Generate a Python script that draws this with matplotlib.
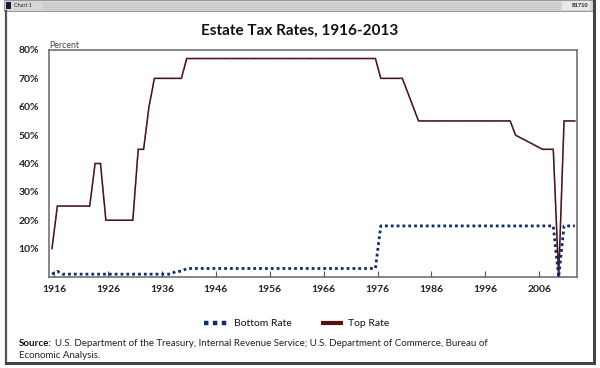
import matplotlib
matplotlib.use("Agg")
import matplotlib.pyplot as plt
from matplotlib.patches import Rectangle
from matplotlib.lines import Line2D

plt.rcParams['font.family'] = ['Lato', 'DejaVu Sans']

# ---- data ----
years = list(range(1916, 2014))
top_rate = ([10, 25, 25, 25, 25, 25, 25, 25, 40, 40,          # 1916-1925
             20, 20, 20, 20, 20, 20, 45, 45, 60, 70,          # 1926-1935
             70, 70, 70, 70, 70] + [77] * 36 +                 # 1936-1940, 1941-1976
            [70, 70, 70, 70, 70, 65, 60] + [55] * 18 +         # 1977-1983, 1984-2001
            [50, 49, 48, 47, 46, 45, 45, 45, 0, 55, 55, 55])   # 2002-2013
bottom_rate = ([1, 2] + [1] * 21 +                             # 1916-1938
               [2, 2] + [3] * 36 +                             # 1939-1940, 1941-1976
               [18] * 32 +                                     # 1977-2008
               [18, 0, 18, 18, 18])                            # 2009-2013
tick_years = list(range(1916, 2013, 10))
y_ticks = [10, 20, 30, 40, 50, 60, 70, 80]
title = "Estate Tax Rates, 1916-2013"
source_bold = "Source:"
source_line1 = "U.S. Department of the Treasury, Internal Revenue Service; U.S. Department of Commerce, Bureau of"
source_line2 = "Economic Analysis."

W, H = 600, 368
fig = plt.figure(figsize=(W / 100, H / 100), dpi=100)
fig.patch.set_facecolor('white')

def fx(x):
    return x / W

def fy(y):
    return 1 - y / H

# ---- window frame ----
fig.patches.append(Rectangle((fx(4), fy(11)), fx(593) - fx(4), fy(0) - fy(11),
                             transform=fig.transFigure, facecolor='#d6d6d6',
                             edgecolor='#8a8a8a', lw=0.6, zorder=0))
for yy in [3, 5, 7, 9]:
    fig.lines.append(Line2D([fx(42), fx(560)], [fy(yy), fy(yy)], transform=fig.transFigure,
                            color='#bdbdbd', lw=0.5))
fig.patches.append(Rectangle((fx(562), fy(10)), fx(590) - fx(562), fy(1) - fy(10),
                             transform=fig.transFigure, facecolor='#e8e8e8',
                             edgecolor='none', zorder=1))
fig.patches.append(Rectangle((fx(6), fy(9)), fx(5), fy(2) - fy(9),
                             transform=fig.transFigure, facecolor='#1a1a3a',
                             edgecolor='none', zorder=2))
fig.text(fx(14), fy(5.5), "Chart 1", fontsize=4, va='center', ha='left', color='#222')
fig.text(fx(588), fy(5.5), "B1710", fontsize=4, va='center', ha='right', color='#222',
         fontweight='bold')
fig.lines.append(Line2D([fx(6), fx(6)], [fy(11), fy(363)], transform=fig.transFigure,
                        color='#555555', lw=1.6))
fig.lines.append(Line2D([fx(594), fx(594)], [fy(0), fy(363)], transform=fig.transFigure,
                        color='#444444', lw=2.2))
fig.lines.append(Line2D([fx(6), fx(594)], [fy(363), fy(363)], transform=fig.transFigure,
                        color='#444444', lw=2.2))

# ---- axes ----
ax = fig.add_axes([fx(49), fy(277), fx(577) - fx(49), fy(50) - fy(277)])
ax.set_xlim(1915.45, 2013.4)
ax.set_ylim(0, 80)

ax.plot(years, top_rate, color='#2a1010', lw=1.1, solid_joinstyle='miter', zorder=3)
ax.plot(years, top_rate, color='#b02020', lw=1.0, ls=(0, (2.5, 2.5)), alpha=0.55, zorder=4)
ax.plot(years, bottom_rate, color='#0c2a6e', lw=2.0, ls=(0, (1.0, 1.1)), zorder=5)

ax.set_xticks([t + 0.4 for t in tick_years])
ax.set_xticklabels([str(t) for t in tick_years])
ax.set_yticks(y_ticks)
ax.set_yticklabels([f"{v}%" for v in y_ticks])
ax.tick_params(axis='x', direction='in', length=4, width=0.8, color='#555555',
               labelsize=7.5, pad=6)
ax.tick_params(axis='y', length=0, labelsize=7.5, pad=7)
for lab in ax.get_xticklabels() + ax.get_yticklabels():
    lab.set_fontweight('bold')
    lab.set_color('#222222')
for sp in ax.spines.values():
    sp.set_color('#666666')
    sp.set_linewidth(1.1)

# ---- texts ----
fig.text(fx(300), fy(31), title, fontsize=11, fontweight='bold', ha='center', va='center',
         color='#111111')
fig.text(fx(49), fy(45), "Percent", fontsize=6.3, ha='left', va='center', color='#444444')

# legend
leg_y = fy(323)
fig.lines.append(Line2D([fx(204), fx(228)], [leg_y, leg_y], transform=fig.transFigure,
                        color='#0c2a6e', lw=3.2, ls=(0, (1.0, 1.0))))
fig.text(fx(234), leg_y, "Bottom Rate", fontsize=7.5, ha='left', va='center', color='#111111')
fig.lines.append(Line2D([fx(321), fx(343)], [leg_y, leg_y], transform=fig.transFigure,
                        color='#5a0e0e', lw=3.0, solid_capstyle='butt'))
fig.text(fx(348), leg_y, "Top Rate", fontsize=7.5, ha='left', va='center', color='#111111')

# source
src_fs = 7.0
sb = fig.text(fx(19), fy(344), source_bold, fontsize=src_fs, fontweight='bold', ha='left',
              va='center', color='#111111')
renderer = fig.canvas.get_renderer()
bb = sb.get_window_extent(renderer=renderer)
x_after = (bb.x1 + 3) / W
fig.text(x_after, fy(344), source_line1, fontsize=src_fs, ha='left', va='center',
         color='#222222')
fig.text(fx(19), fy(355), source_line2, fontsize=src_fs, ha='left', va='center',
         color='#222222')

fig.savefig("out.png", dpi=100, facecolor='white')
